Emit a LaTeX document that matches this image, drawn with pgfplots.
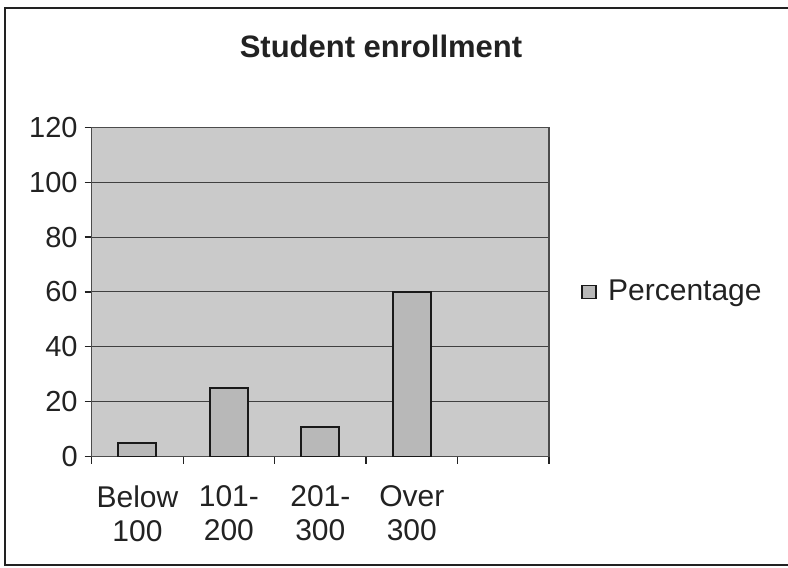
\documentclass[border=0pt]{standalone}
\usepackage{fontspec}
\setmainfont{Liberation Sans}
\usepackage{pgfplots}
\pgfplotsset{compat=1.18}

\definecolor{plotbg}{HTML}{CACACA}
\definecolor{barfill}{HTML}{B8B8B8}
\definecolor{ink}{HTML}{222222}

\begin{document}
\begin{tikzpicture}
% page = 788 x 568 px at 0.5pt per px
\path[use as bounding box] (0,0) rectangle (394pt,284pt);
\draw[ink,line width=1pt] (394pt,280pt) -- (2.5pt,280pt) -- (2.5pt,1.5pt) -- (394pt,1.5pt);
\node[anchor=base,text=ink,font=\fontsize{15.5}{18}\selectfont\bfseries] at (190.5pt,255pt) {Student enrollment};

\begin{axis}[
  scale only axis,
  width=228.65pt, height=164.7pt,
  at={(45.85pt,55.65pt)}, anchor=south west,
  ybar, bar width=19pt,
  xmin=-0.5, xmax=4.5,
  ymin=0, ymax=120,
  ytick={0,20,...,120},
  xtick={-0.5,0.5,...,4.5},
  xticklabels={},
  extra x ticks={0,1,2,3},
  extra x tick labels={{Below\\100},{101-\\200},{201-\\300},{Over\\300}},
  extra x tick style={major tick length=0pt, grid=none},
  tick align=outside, tick pos=left,
  major tick length=3.5pt,
  tick style={ink, line width=0.6pt},
  ymajorgrids,
  major grid style={black!75, line width=0.5pt},
  axis line style={black!70, line width=0.6pt},
  axis background/.style={fill=plotbg},
  /pgf/number format/assume math mode=true,
  yticklabel style={text=ink, font=\fontsize{14.5}{17}\selectfont},
  xticklabel style={text=ink, align=center, font=\fontsize{15}{17}\selectfont, yshift=-11pt},
  legend style={at={(1.057,0.5)}, anchor=west, draw=none, fill=none,
    font=\fontsize{15}{17}\selectfont, text=ink},
  legend image code/.code={\draw[#1,line width=0.7pt] (0pt,-3.2pt) rectangle (7pt,3.2pt);
    \path[draw=none,fill=none] (7pt,0pt) -- (11pt,0pt);},
  legend cell align=left,
]
\addplot[fill=barfill, draw=black!90, line width=1pt] coordinates {
  (0,5) (1,25) (2,11) (3,60)
};
\addlegendentry{Percentage}
\end{axis}
\end{tikzpicture}
\end{document}
